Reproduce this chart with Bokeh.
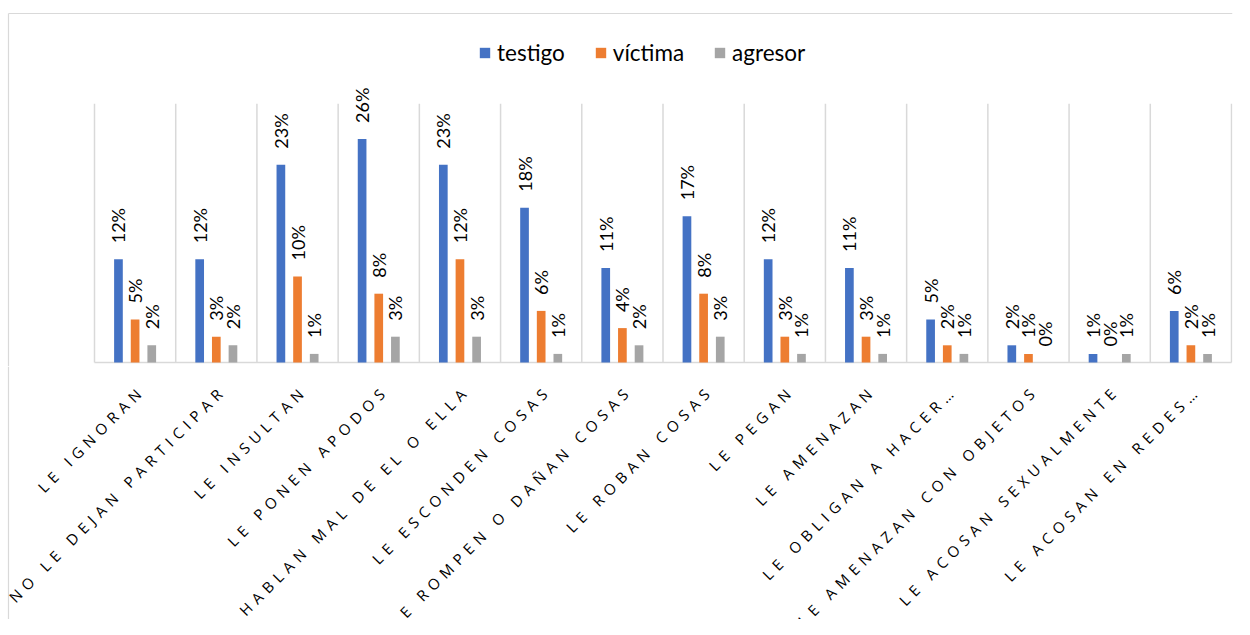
from math import pi, sqrt
import numpy as np
from bokeh.plotting import figure
from bokeh.layouts import column
from bokeh.models import ColumnDataSource, Range1d, Legend, LegendItem
from bokeh.core.properties import value
from bokeh.embed import file_html
from bokeh.resources import INLINE

categories = ["LE IGNORAN", "NO LE DEJAN PARTICIPAR", "LE INSULTAN", "LE PONEN APODOS",
              "HABLAN MAL DE EL O ELLA", "LE ESCONDEN COSAS", "LE ROMPEN O DAÑAN COSAS",
              "LE ROBAN COSAS", "LE PEGAN", "LE AMENAZAN", "LE OBLIGAN A HACER…",
              "LE AMENAZAN CON OBJETOS", "LE ACOSAN SEXUALMENTE", "LE ACOSAN EN REDES…"]
testigo = [12, 12, 23, 26, 23, 18, 11, 17, 12, 11, 5, 2, 1, 6]
victima = [5, 3, 10, 8, 12, 6, 4, 8, 3, 3, 2, 1, 0, 2]
agresor = [2, 2, 1, 3, 3, 1, 2, 3, 1, 1, 1, 0, 1, 1]
series_names = ["testigo", "víctima", "agresor"]
colors = ["#4472C4", "#ED7D31", "#A5A5A5"]

# ---- layout constants (pixels) ----
W = 1234
RIGHT_PAD = 2
TOP_H = 366
BOT_H = 619 - TOP_H
PLOT_L, PLOT_R = 94, 1231          # plot area (category band) in pixels
BASE_Y = 362                       # pixel row of the zero line
PX_PER_PCT = 8.6
GRID_TOP = 30.1
SPACING = 5.6                      # letter spacing of category labels
GRID_COLOR = "#d9d9d9"

n = len(categories)
cw = (PLOT_R - PLOT_L) / n                              # pixels per category
x_rng = (-PLOT_L / cw, (W - RIGHT_PAD - PLOT_L) / cw)   # same horizontal scale in both figures
centers = np.arange(n) + 0.5

src = ColumnDataSource(dict(
    x=centers,
    testigo=testigo, victima=victima, agresor=agresor,
    testigo_lbl=[f"{v}%" for v in testigo],
    victima_lbl=[f"{v}%" for v in victima],
    agresor_lbl=[f"{v}%" for v in agresor],
))

p = figure(x_range=Range1d(*x_rng),
           y_range=Range1d(-(TOP_H - BASE_Y) / PX_PER_PCT, BASE_Y / PX_PER_PCT),
           width=W, height=TOP_H, output_backend="svg", toolbar_location=None,
           min_border_left=0, min_border_top=0, min_border_bottom=0,
           min_border_right=RIGHT_PAD)
p.outline_line_color = None
p.xgrid.visible = False
p.ygrid.visible = False
p.axis.visible = False

# outer chart border (top and left edges)
top_border = (BASE_Y - 13) / PX_PER_PCT
left_border = (8 - PLOT_L) / cw
p.segment(x0=[left_border, left_border], x1=[x_rng[1], left_border],
          y0=[top_border, top_border], y1=[top_border, -10],
          line_color=GRID_COLOR, line_width=1.2)

# vertical separators between categories and the zero line
bounds = np.arange(n + 1)
p.segment(x0=bounds, x1=bounds, y0=np.zeros(n + 1), y1=np.full(n + 1, GRID_TOP),
          line_color=GRID_COLOR, line_width=1.5)
p.segment(x0=[0], x1=[n], y0=[0], y1=[0], line_color=GRID_COLOR, line_width=1.5)

fields = ["testigo", "victima", "agresor"]
offsets = [-0.205, 0.0, 0.205]
items = []
for f, off, col, name in zip(fields, offsets, colors, series_names):
    src.data[f + "_x"] = centers + off
    r = p.vbar(x=f + "_x", top=f, width=0.107, source=src, fill_color=col, line_color=None)
    p.text(x=f + "_x", y=f, text=f + "_lbl", source=src,
           angle=pi / 2, text_align="left", text_baseline="middle", y_offset=-16,
           text_font=value("Lato"), text_font_size="18px", text_color="#000000")
    items.append(LegendItem(label=name, renderers=[r]))

legend = Legend(items=items, orientation="horizontal", location=(478, TOP_H - 2 - 64),
                label_text_font="Lato", label_text_font_size="22.5px", label_text_color="#000000",
                glyph_width=13, glyph_height=13, label_standoff=6, spacing=29,
                padding=0, margin=0, border_line_color=None, background_fill_alpha=0)
p.add_layout(legend)

# ---- category labels (letter-spaced, rotated 45°) ----
p2 = figure(x_range=Range1d(*x_rng), y_range=Range1d(-BOT_H, 0),
            width=W, height=BOT_H, output_backend="svg", toolbar_location=None,
            min_border_left=0, min_border_top=0, min_border_bottom=0,
            min_border_right=RIGHT_PAD,
            styles={"letter-spacing": f"{SPACING}px"})
p2.outline_line_color = None
p2.xgrid.visible = False
p2.ygrid.visible = False
p2.axis.visible = False
p2.segment(x0=[left_border], x1=[left_border], y0=[0], y1=[-BOT_H],
           line_color=GRID_COLOR, line_width=1.2)
k = SPACING / sqrt(2)
lab = ColumnDataSource(dict(
    x=centers,
    y=np.zeros(n),
    text=categories,
    xo=[7 - len(c) * k for c in categories],
    yo=[21 + len(c) * k for c in categories],
))
p2.text(x="x", y="y", text="text", source=lab, x_offset="xo", y_offset="yo",
        angle=pi / 4, text_align="right", text_baseline="middle",
        text_font=value("Open Sans"), text_font_size="15px", text_color="#000000")

layout = column(p, p2, spacing=0)
open("out.html", "w").write(file_html(layout, INLINE))
